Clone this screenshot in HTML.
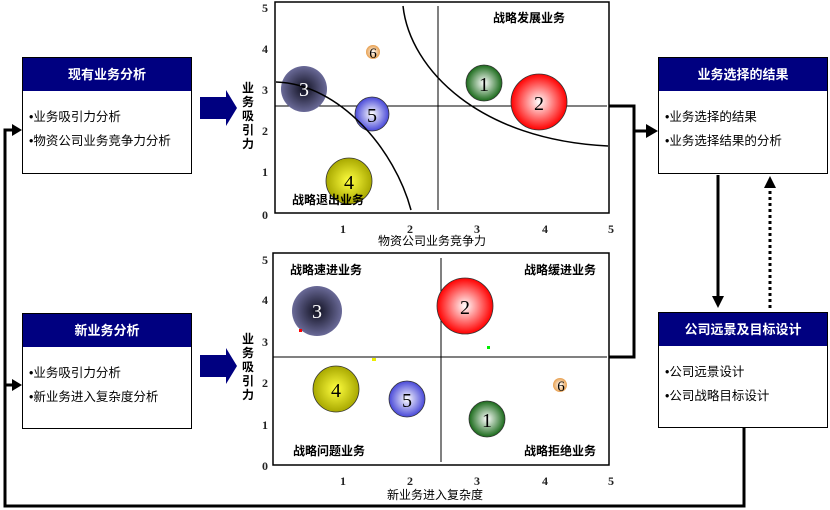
<!DOCTYPE html>
<html><head><meta charset="utf-8"><style>
body{margin:0;width:830px;height:510px;background:#fff;overflow:hidden;position:relative;font-family:"Liberation Sans","Noto Sans CJK SC",sans-serif}
.box{position:absolute;width:170px;border:1px solid #000;background:#fff;box-sizing:border-box}
.box .h{background:#000080;color:#fff;font-weight:bold;font-size:13px;text-align:center;height:33px;line-height:33px}
.box .b{font-size:12.5px;padding:14px 0 0 6px;line-height:24px;color:#000}
svg{position:absolute;left:0;top:0}
</style></head><body>
<svg width="830" height="510" font-family="Liberation Serif,Noto Serif CJK SC,serif">
<defs>
<radialGradient id="gr" cx="50%" cy="50%" r="50%"><stop offset="0" stop-color="#fff"/><stop offset="1" stop-color="#f00"/></radialGradient>
<radialGradient id="gg" cx="50%" cy="50%" r="50%"><stop offset="0" stop-color="#fff"/><stop offset="1" stop-color="#1a6a1a"/></radialGradient>
<radialGradient id="gb" cx="50%" cy="50%" r="50%"><stop offset="0" stop-color="#fff"/><stop offset="1" stop-color="#4848d8"/></radialGradient>
<radialGradient id="gy" cx="50%" cy="50%" r="50%"><stop offset="0" stop-color="#ffff40"/><stop offset="1" stop-color="#a8a800"/></radialGradient>
<radialGradient id="gd" cx="50%" cy="50%" r="50%"><stop offset="0" stop-color="#101020"/><stop offset="1" stop-color="#6a6a98"/></radialGradient>
<radialGradient id="go" cx="50%" cy="50%" r="50%"><stop offset="0" stop-color="#fff"/><stop offset="1" stop-color="#e8a050"/></radialGradient>
</defs>
<g stroke="#000" stroke-width="3" fill="none">
<path d="M609,106H634V357H609"/>
<path d="M634,131H646"/>
<path d="M744,428V506H5V130H12"/>
<path d="M5,385H12"/>
<path d="M718,175V296"/>
</g>
<path d="M646,124L658,131L646,138z"/>
<path d="M12,124L22,130L12,136z"/>
<path d="M12,379L22,385L12,391z"/>
<path d="M712,296L718,308L724,296z"/>
<path d="M770,308V188" stroke="#000" stroke-width="3" stroke-dasharray="3,3"/>
<path d="M764,188L770,176L776,188z"/>
<path d="M200,97H226V90L237,108L226,126V119H200z" fill="#000080"/>
<path d="M200,355H226V348L237,366L226,384V377H200z" fill="#000080"/>
<!-- top chart -->
<rect x="275" y="2" width="334" height="211" fill="#fff" stroke="#000" stroke-width="1.5"/>
<path d="M275,106H607M438,6V210" stroke="#000" stroke-width="1"/>
<g font-size="12" font-weight="bold" fill="#222">
<text x="262" y="12">5</text><text x="262" y="53">4</text><text x="262" y="94">3</text><text x="262" y="135">2</text><text x="262" y="176">1</text><text x="262" y="219">0</text>
<text x="340" y="233">1</text><text x="407" y="233">2</text><text x="474" y="233">3</text><text x="542" y="233">4</text><text x="608" y="233">5</text>
</g>
<g font-family="Liberation Sans,Noto Sans CJK SC,sans-serif" font-size="12">
<text x="378" y="245">物资公司业务竞争力</text>
<text x="387" y="499">新业务进入复杂度</text>
</g>
<g font-family="Liberation Sans,Noto Sans CJK SC,sans-serif" font-size="12" font-weight="bold">
<text x="242" y="92">业</text><text x="242" y="106">务</text><text x="242" y="120">吸</text><text x="242" y="134">引</text><text x="242" y="148">力</text>
<text x="242" y="343">业</text><text x="242" y="357">务</text><text x="242" y="371">吸</text><text x="242" y="385">引</text><text x="242" y="399">力</text>
</g>
<g stroke="#333" stroke-width="0.8">
<circle cx="304" cy="89" r="23" fill="url(#gd)" stroke="none"/>
<circle cx="484" cy="83" r="18" fill="url(#gg)"/>
<circle cx="539" cy="102" r="28" fill="url(#gr)"/>
<circle cx="372" cy="114" r="17" fill="url(#gb)"/>
<circle cx="349" cy="181" r="23" fill="url(#gy)"/>
<circle cx="373" cy="52" r="7" fill="url(#go)" stroke="none"/>
</g>
<path d="M276,82C340,84 395,150 411,210" stroke="#000" stroke-width="1.5" fill="none"/>
<path d="M403,6C410,70 480,140 608,146" stroke="#000" stroke-width="1.5" fill="none"/>
<g font-size="20" text-anchor="middle">
<text x="304" y="96" fill="#fff">3</text><text x="484" y="91">1</text><text x="539" y="110">2</text><text x="372" y="122">5</text><text x="349" y="189">4</text><text x="373" y="58" font-size="15">6</text>
</g>
<g font-family="Liberation Sans,Noto Sans CJK SC,sans-serif" font-size="12" font-weight="bold">
<text x="493" y="22">战略发展业务</text>
<text x="292" y="204">战略退出业务</text>
</g>
<!-- bottom chart -->
<rect x="273" y="253" width="336" height="212" fill="#fff" stroke="#000" stroke-width="1.5"/>
<path d="M273,357H607M441,258V462" stroke="#000" stroke-width="1"/>
<g font-size="12" font-weight="bold" fill="#222">
<text x="262" y="264">5</text><text x="262" y="304">4</text><text x="262" y="346">3</text><text x="262" y="387">2</text><text x="262" y="429">1</text><text x="262" y="470">0</text>
<text x="340" y="485">1</text><text x="407" y="485">2</text><text x="474" y="485">3</text><text x="542" y="485">4</text><text x="608" y="485">5</text>
</g>
<g font-family="Liberation Sans,Noto Sans CJK SC,sans-serif" font-size="12" font-weight="bold">
<text x="290" y="274">战略速进业务</text><text x="524" y="274">战略缓进业务</text>
<text x="293" y="455">战略问题业务</text><text x="524" y="455">战略拒绝业务</text>
</g>
<g stroke="#333" stroke-width="0.8">
<circle cx="317" cy="311" r="25" fill="url(#gd)" stroke="none"/>
<circle cx="465" cy="306" r="28" fill="url(#gr)"/>
<circle cx="336" cy="389" r="23" fill="url(#gy)"/>
<circle cx="407" cy="399" r="18" fill="url(#gb)"/>
<circle cx="487" cy="419" r="18" fill="url(#gg)"/>
<circle cx="560" cy="385" r="7" fill="url(#go)" stroke="none"/>
</g>
<rect x="299" y="329" width="3" height="3" fill="red"/><rect x="372" y="358" width="4" height="3" fill="#ee0"/><rect x="487" y="346" width="3" height="3" fill="#0e0"/>
<g font-size="20" text-anchor="middle">
<text x="317" y="318" fill="#fff">3</text><text x="465" y="314">2</text><text x="336" y="397">4</text><text x="407" y="407">5</text><text x="487" y="427">1</text><text x="561" y="391" font-size="15">6</text>
</g>
</svg>
<div class="box" style="left:22px;top:57px;height:117px"><div class="h">现有业务分析</div><div class="b">•业务吸引力分析<br>•物资公司业务竞争力分析</div></div>
<div class="box" style="left:22px;top:313px;height:116px"><div class="h">新业务分析</div><div class="b">•业务吸引力分析<br>•新业务进入复杂度分析</div></div>
<div class="box" style="left:658px;top:57px;height:117px"><div class="h">业务选择的结果</div><div class="b">•业务选择的结果<br>•业务选择结果的分析</div></div>
<div class="box" style="left:658px;top:312px;height:116px"><div class="h">公司远景及目标设计</div><div class="b">•公司远景设计<br>•公司战略目标设计</div></div>
</body></html>
